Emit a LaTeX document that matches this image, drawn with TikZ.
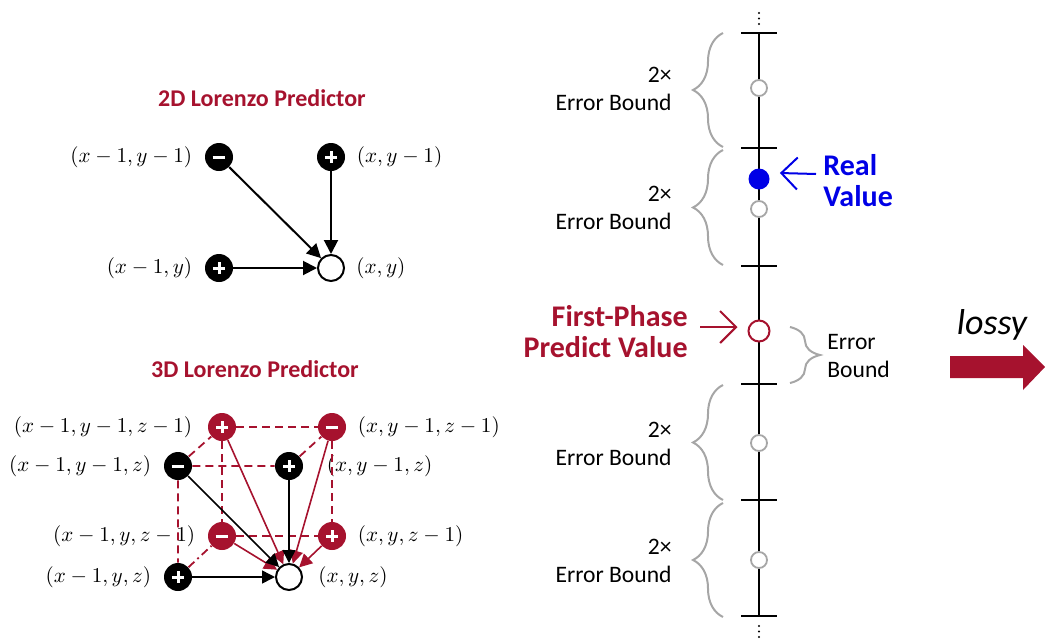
\documentclass[tikz,border=0pt]{standalone}
\usepackage{fontspec}
\setmainfont{Carlito}
\usetikzlibrary{positioning,arrows.meta,decorations.pathreplacing}
\definecolor{cred}{HTML}{A6122E}
\definecolor{cblue}{HTML}{0000E6}
\definecolor{cgray}{HTML}{A6A6A6}
\newcommand{\crd}[1]{\scalebox{0.965}{$#1$}}
\tikzset{
  ttl/.style={font=\fontsize{12}{14}\selectfont\bfseries, text=cred, inner sep=0pt},
  nb/.style={circle, fill=black, minimum size=14pt, inner sep=0pt},
  nr/.style={circle, fill=cred, minimum size=14pt, inner sep=0pt},
  tgt/.style={circle, draw=black, fill=white, line width=1pt, minimum size=13pt, inner sep=0pt},
  psign/.style={path picture={
    \draw[white, line width=1.5pt] ([xshift=-2.8pt]path picture bounding box.center) -- ([xshift=2.8pt]path picture bounding box.center)
      ([yshift=-2.8pt]path picture bounding box.center) -- ([yshift=2.8pt]path picture bounding box.center);}},
  msign/.style={path picture={
    \draw[white, line width=1.5pt] ([xshift=-3.2pt]path picture bounding box.center) -- ([xshift=3.2pt]path picture bounding box.center);}},
  lbl/.style={font=\fontsize{10.95}{12}\selectfont, inner sep=0pt},
  arr/.style={-{Triangle[length=7pt,width=7pt]}, line width=1pt},
  arrt/.style={-{Triangle[length=6.5pt,width=6.5pt]}, line width=0.75pt},
  rarr/.style={-{Triangle[length=6.5pt,width=6.5pt]}, line width=0.8pt, draw=cred, fill=cred},
  cube/.style={draw=cred, line width=0.9pt, dash pattern=on 4pt off 2.5pt},
  cubedd/.style={draw=cred, line width=0.9pt, dash pattern=on 4pt off 2pt on 1pt off 2pt},
  % ---- quantization axis ----
  axis/.style={line width=1.2pt},
  val/.style={circle, draw=cgray, fill=white, line width=0.9pt, minimum size=8pt, inner sep=0pt},
  real/.style={circle, fill=cblue, minimum size=10.5pt, inner sep=0pt},
  pred/.style={circle, draw=cred, fill=white, line width=1pt, minimum size=10.5pt, inner sep=0pt},
  brc/.style={draw=cgray, line width=1pt, decorate, decoration={brace, amplitude=15pt}},
  ebtxt/.style={font=\fontsize{11.8}{14}\selectfont, inner sep=0pt},
  hltxt/.style={font=\fontsize{15}{15.5}\selectfont\bfseries, inner sep=0pt},
  barb/.style={-{Straight Barb[length=8pt,width=16pt]}, line width=1pt},
}

\begin{document}
\begin{tikzpicture}[x=0.5pt, y=-0.5pt]
\useasboundingbox (0,0) rectangle (1045,638);
% 2D predictor
\node[ttl] (t2) at (262,98) {2D Lorenzo Predictor};
\node[nb, msign] (a11) at (219,157) {};
\node[nb, psign] (a01) at (331,157) {};
\node[nb, psign] (a10) at (219,268) {};
\node[tgt] (a00) at (331,268) {};
\node[lbl, left=6pt of a11] (la11) {\crd{(x-1,y-1)}};
\node[lbl, right=5.5pt of a01] (la01) {\crd{(x,y-1)}};
\node[lbl, left=6pt of a10] (la10) {\crd{(x-1,y)}};
\node[lbl, right=5.5pt of a00] (la00) {\crd{(x,y)}};
\draw[arr] (a11) -- (a00);
\draw[arr] (a01) -- (a00);
\draw[arr] (a10) -- (a00);

% 3D predictor
\node[ttl] (t3) at (255,369) {3D Lorenzo Predictor};
\node[nr, psign] (c111) at (222,427) {};
\node[nr, msign] (c011) at (332,427) {};
\node[nr, msign] (c101) at (222,536) {};
\node[nr, psign] (c001) at (332,536) {};
\node[nb, msign] (c110) at (178,466) {};
\node[nb, psign] (c010) at (289,466) {};
\node[nb, psign] (c100) at (178,577) {};
\node[tgt] (c000) at (289,577) {};
\node[lbl, left=7.5pt of c111] (lc111) {\crd{(x-1,y-1,z-1)}};
\node[lbl, right=5.5pt of c011] (lc011) {\crd{(x,y-1,z-1)}};
\node[lbl, left=6pt of c101] (lc101) {\crd{(x-1,y,z-1)}};
\node[lbl, right=5.5pt of c001] (lc001) {\crd{(x,y,z-1)}};
\node[lbl, left=6pt of c110] (lc110) {\crd{(x-1,y-1,z)}};
\node[lbl, right=11.5pt of c010] (lc010) {\crd{(x,y-1,z)}};
\node[lbl, left=6pt of c100] (lc100) {\crd{(x-1,y,z)}};
\node[lbl, right=7.5pt of c000] (lc000) {\crd{(x,y,z)}};
% cube edges
\draw[cube] (c111) -- (c011) (c111) -- (c101) (c011) -- (c001) (c101) -- (c001);
\draw[cube] (c110) -- (c010) (c110) -- (c100) (c110) -- (c111) (c010) -- (c011);
\draw[cubedd] (c100) -- (c101);
% contributions
\draw[rarr] (c111) -- (c000);
\draw[rarr] (c011) -- (c000);
\draw[rarr] (c101) -- (c000);
\draw[rarr] (c001) -- (c000);
\draw[arrt] (c110) -- (c000);
\draw[arrt] (c010) -- (c000);
\draw[arrt] (c100) -- (c000);

% quantization axis
\foreach \y [count=\i] in {33,148,266,384,500,616}
  \coordinate (tk\i) at (759,\y);
\draw[axis] (tk1) -- (tk6);
\foreach \i in {1,...,6}
  \draw[axis] ([xshift=-9pt]tk\i) -- ([xshift=9pt]tk\i);
\foreach \y in {13,18.5,24,626,631.5,637}
  \fill (759,\y) circle[radius=0.55pt];
\node[val] (g1) at (759,88) {};
\node[val] (g2) at (759,209) {};
\node[val] (g3) at (759,443) {};
\node[val] (g4) at (759,560) {};
\node[real] (rv) at (759,179) {};
\node[pred] (pv) at (759,331) {};
% braces
\draw[brc] (723,147) -- (723,33);
\draw[brc] (723,265) -- (723,150);
\draw[brc] (723,500) -- (723,385);
\draw[brc] (723,617) -- (723,503);
\draw[brc] (790,327) -- (790,383);
\node[ebtxt, anchor=east, align=right] (eb1) at (672,89) {2×\\Error Bound};
\node[ebtxt, anchor=east, align=right] (eb2) at (672,208) {2×\\Error Bound};
\node[ebtxt, anchor=east, align=right] (eb3) at (672,444) {2×\\Error Bound};
\node[ebtxt, anchor=east, align=right] (eb4) at (672,561) {2×\\Error Bound};
\node[ebtxt, anchor=west, align=left] (eb0) at (827,356) {Error\\Bound};
% highlighted values
\node[hltxt, text=cblue, anchor=west, align=left] (rvtxt) at (823,181) {Real\\Value};
\node[hltxt, text=cred, anchor=east, align=right] (pvtxt) at (688,332) {First-Phase\\Predict Value};
\draw[barb, draw=cblue] ([xshift=-3.5pt,yshift=3.5pt]rvtxt.west) -- ([xshift=5pt,yshift=3pt]rv.east);
\draw[barb, draw=cred] ([xshift=6pt,yshift=2.5pt]pvtxt.east) -- ([xshift=-5pt,yshift=2pt]pv.west);

% lossy arrow
\fill[cred] (950,356) -- (1023,356) -- (1023,345) -- (1045,367) -- (1023,390) -- (1023,378) -- (950,378) -- cycle;
\node[font=\fontsize{18}{20}\selectfont\itshape, inner sep=0pt] (lossy) at (992,325) {lossy};
\end{tikzpicture}
\end{document}
